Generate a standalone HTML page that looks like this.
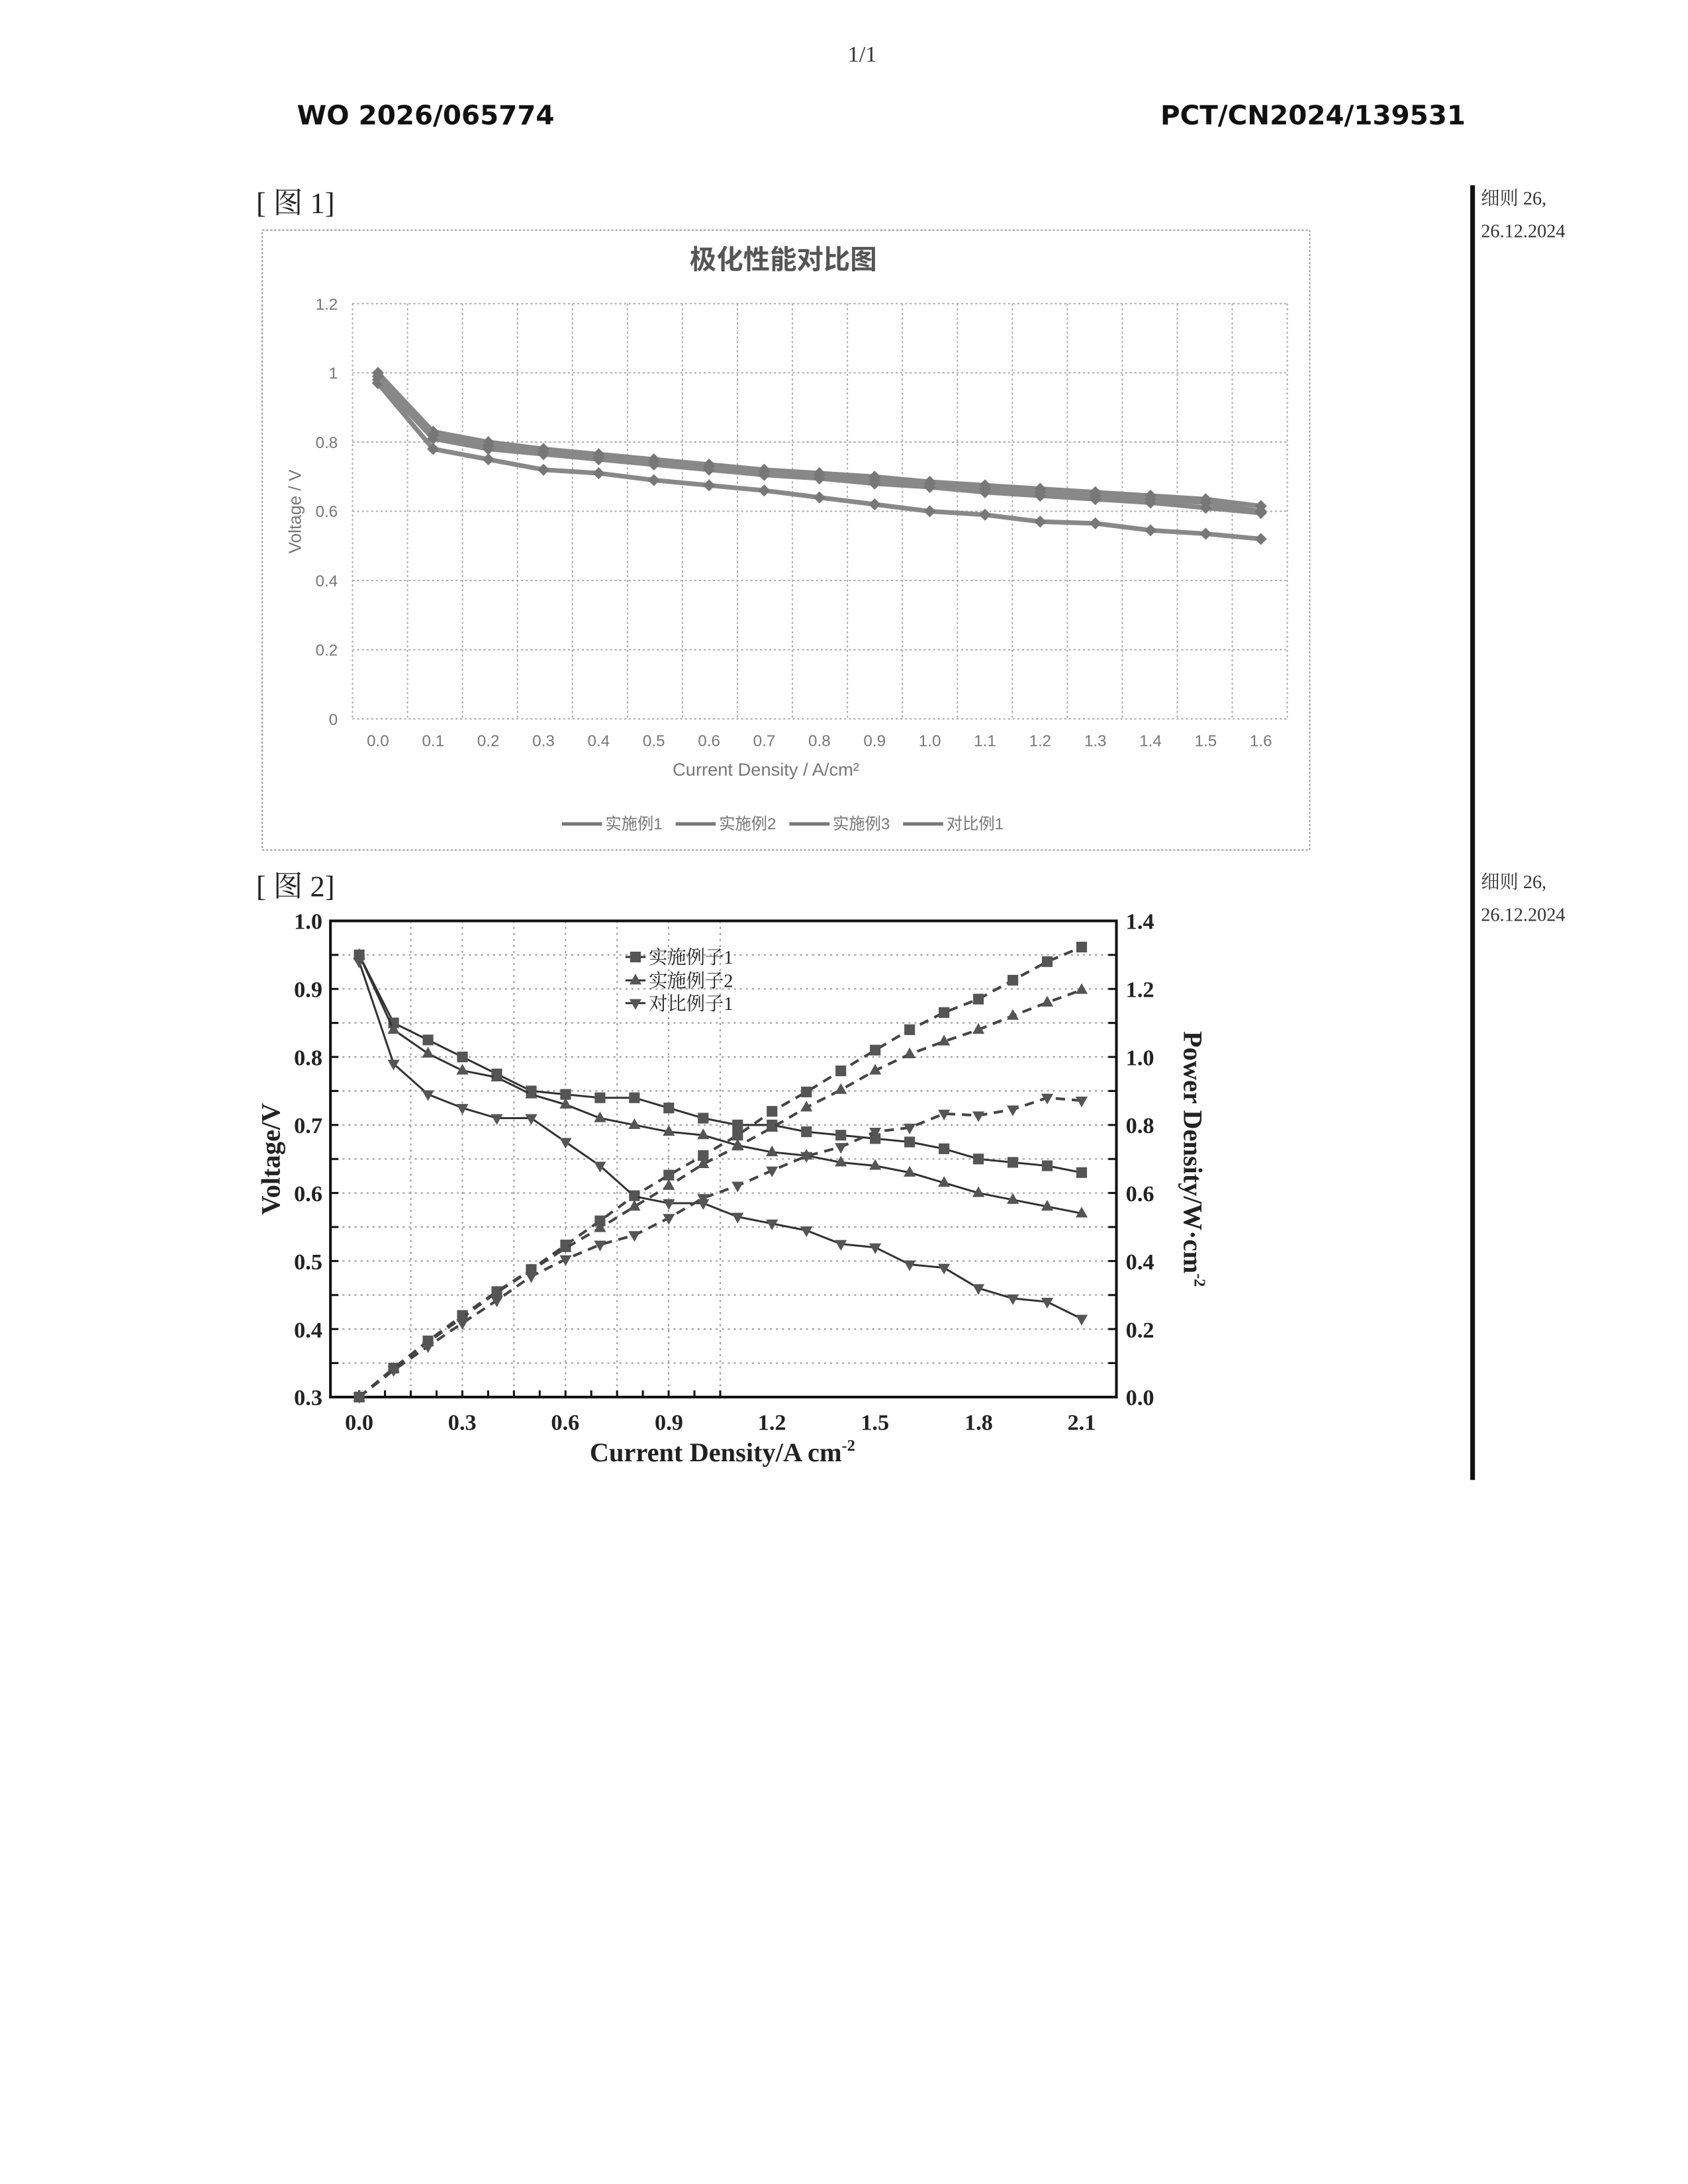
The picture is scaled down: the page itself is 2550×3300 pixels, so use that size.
<!DOCTYPE html>
<html><head><meta charset="utf-8"><style>
body{margin:0;background:#fff;}
svg{display:block}
</style></head><body>
<svg id="s" width="2550" height="3300" xmlns="http://www.w3.org/2000/svg" font-family="'Liberation Serif','Noto Serif CJK SC',serif">
<rect width="2550" height="3300" fill="#fff"/>
<g transform="scale(1.0105)">
<text x="1289" y="92" font-size="34" text-anchor="middle" fill="#333">1/1</text>
<text x="444" y="186" font-size="40" font-weight="bold" font-family="'DejaVu Sans',sans-serif" fill="#111">WO 2026/065774</text>
<text x="2191" y="186" font-size="40" font-weight="bold" font-family="'DejaVu Sans',sans-serif" text-anchor="end" fill="#111">PCT/CN2024/139531</text>
<text x="383" y="318" font-size="44" fill="#222">[ 图 1]</text>
<text x="383" y="1340" font-size="44" fill="#222">[ 图 2]</text>
<rect x="2198" y="277" width="7" height="1936" fill="#111"/>
<text x="2214" y="306" font-size="28" fill="#333">细则 26,</text>
<text x="2214" y="355" font-size="28" fill="#333">26.12.2024</text>
<text x="2214" y="1328" font-size="28" fill="#333">细则 26,</text>
<text x="2214" y="1377" font-size="28" fill="#333">26.12.2024</text>

<!-- Fig 1 -->
<rect x="392" y="344" width="1566" height="927" fill="none" stroke="#999" stroke-width="2" stroke-dasharray="3,3"/>
<text x="1171" y="402" font-size="40" font-weight="bold" text-anchor="middle" fill="#555" font-family="'Noto Sans CJK SC',sans-serif">极化性能对比图</text>
<g id="f1grid" stroke="#aaa" stroke-width="2" stroke-dasharray="3,4"></g>
<g font-size="24" fill="#777" text-anchor="end" font-family="'Liberation Sans',sans-serif">
<text x="505" y="463">1.2</text><text x="505" y="566">1</text><text x="505" y="670">0.8</text><text x="505" y="773">0.6</text><text x="505" y="877">0.4</text><text x="505" y="980">0.2</text><text x="505" y="1084">0</text>
</g>
<g id="f1x" font-size="24" fill="#777" text-anchor="middle" font-family="'Liberation Sans',sans-serif"></g>
<text x="1145" y="1160" font-size="27" fill="#777" text-anchor="middle" font-family="'Liberation Sans',sans-serif">Current Density / A/cm²</text>
<text transform="translate(450,765) rotate(-90)" font-size="26" fill="#777" text-anchor="middle" font-family="'Liberation Sans',sans-serif">Voltage / V</text>
<g font-size="24" fill="#777" font-family="'Liberation Sans','Noto Sans CJK SC',sans-serif">
<line x1="840" y1="1232" x2="900" y2="1232" stroke="#777" stroke-width="5"/><text x="905" y="1240">实施例1</text>
<line x1="1010" y1="1232" x2="1070" y2="1232" stroke="#777" stroke-width="5"/><text x="1075" y="1240">实施例2</text>
<line x1="1180" y1="1232" x2="1240" y2="1232" stroke="#777" stroke-width="5"/><text x="1245" y="1240">实施例3</text>
<line x1="1350" y1="1232" x2="1410" y2="1232" stroke="#777" stroke-width="5"/><text x="1415" y="1240">对比例1</text>
</g>
<g id="f1d"></g>

<!-- Fig 2 -->
<g id="f2grid" stroke="#999" stroke-width="2" stroke-dasharray="3,6"></g>
<rect x="494" y="1377" width="1175" height="712" fill="none" stroke="#111" stroke-width="4"/>
<g id="f2t" stroke="#111" stroke-width="3"></g>
<g font-size="34" font-weight="bold" fill="#222" text-anchor="end">
<text x="482" y="1389">1.0</text><text x="482" y="1491">0.9</text><text x="482" y="1593">0.8</text><text x="482" y="1694">0.7</text><text x="482" y="1796">0.6</text><text x="482" y="1898">0.5</text><text x="482" y="2000">0.4</text><text x="482" y="2101">0.3</text>
</g>
<g font-size="34" font-weight="bold" fill="#222">
<text x="1683" y="1389">1.4</text><text x="1683" y="1491">1.2</text><text x="1683" y="1593">1.0</text><text x="1683" y="1694">0.8</text><text x="1683" y="1796">0.6</text><text x="1683" y="1898">0.4</text><text x="1683" y="2000">0.2</text><text x="1683" y="2101">0.0</text>
</g>
<g font-size="34" font-weight="bold" fill="#222" text-anchor="middle">
<text x="537" y="2138">0.0</text><text x="691" y="2138">0.3</text><text x="845" y="2138">0.6</text><text x="1000" y="2138">0.9</text><text x="1154" y="2138">1.2</text><text x="1308" y="2138">1.5</text><text x="1463" y="2138">1.8</text><text x="1617" y="2138">2.1</text>
</g>
<text x="1080" y="2185" font-size="40" font-weight="bold" fill="#222" text-anchor="middle">Current Density/A cm<tspan font-size="24" dy="-16">-2</tspan></text>
<text transform="translate(418,1733) rotate(-90)" font-size="40" font-weight="bold" fill="#222" text-anchor="middle">Voltage/V</text>
<text transform="translate(1770,1733) rotate(90)" font-size="40" font-weight="bold" fill="#222" text-anchor="middle">Power Density/W·cm<tspan font-size="24" dy="-16">-2</tspan></text>
<g font-size="28" fill="#222" font-family="'Liberation Serif','Noto Serif CJK SC',serif">
<text x="970" y="1441">实施例子1</text><text x="970" y="1476">实施例子2</text><text x="970" y="1510">对比例子1</text>
</g>
<g id="f2d"></g>
</g>
</svg>
<script>
var NS="http://www.w3.org/2000/svg";
function el(p,t,a){var e=document.createElementNS(NS,t);for(var k in a)e.setAttribute(k,a[k]);p.appendChild(e);return e;}
var g=document.getElementById('f1grid');
for(var i=0;i<=6;i++){var y=1075-i*103.5;el(g,'line',{x1:527,x2:1925,y1:y,y2:y});}
for(var i=0;i<=17;i++){var x=527+i*82.2;el(g,'line',{x1:x,x2:x,y1:454,y2:1075});}
var fx=document.getElementById('f1x');
for(var i=0;i<17;i++){var t=el(fx,'text',{x:565+i*82.5,y:1116});t.textContent=(i/10).toFixed(1);}
var A=[1.0,.83,.80,.78,.765,.75,.735,.72,.71,.70,.685,.675,.665,.655,.645,.635,.615],
B=[.98,.81,.78,.765,.75,.735,.72,.705,.695,.68,.67,.655,.645,.635,.625,.61,.595],
C=[.97,.78,.75,.72,.71,.69,.675,.66,.64,.62,.60,.59,.57,.565,.545,.535,.52],
D=[.99,.82,.79,.77,.755,.745,.73,.715,.705,.69,.68,.665,.655,.645,.635,.625,.60];
var d1=document.getElementById('f1d');
[A,B,C,D].forEach(function(s){var pts=s.map(function(v,i){return (565+i*82.5)+','+(1075-v*517.5)}).join(' ');
el(d1,'polyline',{points:pts,fill:'none',stroke:'#888',"stroke-width":7});
s.forEach(function(v,i){var x=565+i*82.5,y=1075-v*517.5;el(d1,'path',{d:'M'+(x-9)+' '+y+'L'+x+' '+(y-9)+'L'+(x+9)+' '+y+'L'+x+' '+(y+9)+'Z',fill:'#777'});});});
var g2=document.getElementById('f2grid');
for(var i=1;i<14;i++){var y=1377+i*50.86;el(g2,'line',{x1:494,x2:1669,y1:y,y2:y});}
for(var i=1;i<8;i++){var x=537+i*77.1;el(g2,'line',{x1:x,x2:x,y1:1377,y2:2089});}
var tk=document.getElementById('f2t');
for(var i=0;i<=14;i++){var y=1377+i*50.86;el(tk,'line',{x1:494,x2:506,y1:y,y2:y});el(tk,'line',{x1:1657,x2:1669,y1:y,y2:y});}
for(var i=0;i<=14;i++){var x=537+i*77.1/2;el(tk,'line',{x1:x,x2:x,y1:2089,y2:2079});}
var S1=[.95,.85,.825,.80,.775,.75,.745,.74,.74,.725,.71,.70,.70,.69,.685,.68,.675,.665,.65,.645,.64,.63],
S2=[.95,.84,.805,.78,.77,.745,.73,.71,.70,.69,.685,.67,.66,.655,.645,.64,.63,.615,.60,.59,.58,.57],
S3=[.94,.79,.745,.725,.71,.71,.675,.64,.595,.585,.585,.565,.555,.545,.525,.52,.495,.49,.46,.445,.44,.415];
var d2=document.getElementById('f2d');
function X(I){return 537+I*514.3}
function mk(x,y,k){if(k==0)el(d2,'rect',{x:x-8,y:y-8,width:16,height:16,fill:'#555'});
else if(k==1)el(d2,'path',{d:'M'+(x-9)+' '+(y+6)+'L'+x+' '+(y-10)+'L'+(x+9)+' '+(y+6)+'Z',fill:'#555'});
else el(d2,'path',{d:'M'+(x-9)+' '+(y-6)+'L'+x+' '+(y+10)+'L'+(x+9)+' '+(y-6)+'Z',fill:'#555'});}
[S1,S2,S3].forEach(function(s,k){
var pv=[],pp=[];
s.forEach(function(v,i){var I=i/10,x=X(I);pv.push(x+','+(2089-(v-0.3)*1017.1));pp.push(x+','+(2089-I*v*508.6));});
el(d2,'polyline',{points:pv.join(' '),fill:'none',stroke:'#333',"stroke-width":3});
el(d2,'polyline',{points:pp.join(' '),fill:'none',stroke:'#444',"stroke-width":4,"stroke-dasharray":"14,10"});
s.forEach(function(v,i){var I=i/10,x=X(I);mk(x,2089-(v-0.3)*1017.1,k);mk(x,2089-I*v*508.6,k);});
});
[[1431,0],[1466,1],[1500,2]].forEach(function(a){el(d2,'line',{x1:935,x2:965,y1:a[0],y2:a[0],stroke:'#333',"stroke-width":3});mk(950,a[0],a[1]);});
</script>
</body></html>
